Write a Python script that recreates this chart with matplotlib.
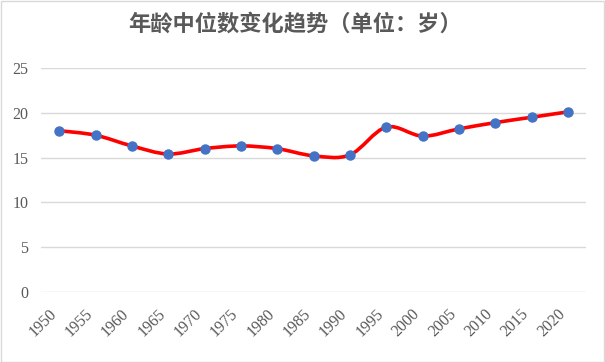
import matplotlib
matplotlib.use('Agg')
from matplotlib import pyplot as plt
from matplotlib.path import Path
from matplotlib.patches import PathPatch, Rectangle
from matplotlib.transforms import ScaledTranslation

years = ['1950', '1955', '1960', '1965', '1970', '1975', '1980', '1985',
         '1990', '1995', '2000', '2005', '2010', '2015', '2020']
median_age = [18.0, 17.5, 16.3, 15.4, 16.0, 16.3, 16.0, 15.2,
              15.3, 18.4, 17.4, 18.2, 18.9, 19.5, 20.1]
y_ticks = [0, 5, 10, 15, 20, 25]

grey = '#595959'
plt.rcParams['font.family'] = ['Liberation Serif', 'DejaVu Serif']


def smooth_path(xs, ys):
    # Catmull-Rom style bezier, like the spreadsheet "smoothed line"
    pts = list(zip(xs, ys))
    verts = [pts[0]]
    codes = [Path.MOVETO]
    n = len(pts)
    for i in range(n - 1):
        p0 = pts[i - 1] if i > 0 else pts[i]
        p1 = pts[i]
        p2 = pts[i + 1]
        p3 = pts[i + 2] if i + 2 < n else pts[i + 1]
        c1 = (p1[0] + (p2[0] - p0[0]) / 6, p1[1] + (p2[1] - p0[1]) / 6)
        c2 = (p2[0] - (p3[0] - p1[0]) / 6, p2[1] - (p3[1] - p1[1]) / 6)
        verts += [c1, c2, p2]
        codes += [Path.CURVE4] * 3
    return Path(verts, codes)


fig = plt.figure(figsize=(6.05, 3.62), dpi=100)
ax = fig.add_axes([0.0678, 0.1934, 0.9008, 0.6188])

x = list(range(len(years)))
ax.add_patch(PathPatch(smooth_path(x, median_age), facecolor='none',
                       edgecolor='#ff0000', linewidth=2.6, zorder=3,
                       capstyle='round'))
ax.plot(x, median_age, 'o', color='#4472c4', markersize=6.5, zorder=4)

ax.set_xlim(-0.5, len(years) - 0.5)
ax.set_ylim(0, 25)
ax.set_yticks(y_ticks)
ax.set_yticklabels([str(t) for t in y_ticks], fontsize=11.5, color=grey)
ax.set_xticks(x)
ax.set_xticklabels(years, fontsize=11.5, color=grey, rotation=45,
                   ha='right', va='center', rotation_mode='anchor')
ax.tick_params(axis='both', length=0)
ax.tick_params(axis='y', pad=9)
ax.tick_params(axis='x', pad=14)
# nudge the slanted year labels a little to the left
shift = ScaledTranslation(-5 / 100, 0, fig.dpi_scale_trans)
for lab in ax.get_xticklabels():
    lab.set_transform(lab.get_transform() + shift)
ax.grid(axis='y', color='#d9d9d9', linewidth=1)
ax.set_axisbelow(True)
for s in ax.spines.values():
    s.set_visible(False)

fig.text(0.4876, 0.932, '年龄中位数变化趋势（单位：岁）', ha='center', va='center',
         family=['Noto Sans CJK SC', 'DejaVu Sans'], fontsize=16,
         fontweight='bold', color=grey)

fig.patches.append(Rectangle((0.001, 0.001), 0.997, 0.997,
                             transform=fig.transFigure, fill=False,
                             edgecolor='#d9d9d9', linewidth=1))

fig.savefig('out.png', dpi=100)
